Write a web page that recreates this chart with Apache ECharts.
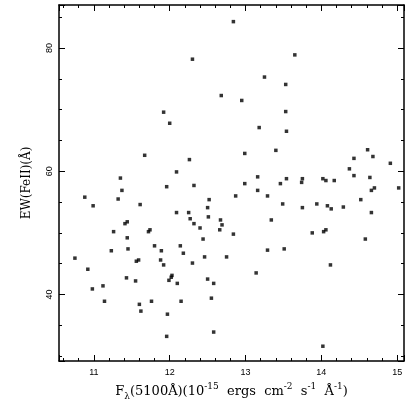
<!DOCTYPE html>
<html>
<head>
<meta charset="utf-8">
<script src="https://cdn.jsdelivr.net/npm/echarts@6/dist/echarts.min.js"></script>
<style>
  html, body { margin: 0; padding: 0; background: #fff; }
  #chart { width: 406px; height: 409px; }
</style>
</head>
<body>
<div id="chart"></div>
<script>
// flux F_lambda(5100A) in 1e-15 ergs cm^-2 s^-1 A^-1
const fluxValues = [
  12.84, 12.30, 13.65, 13.25, 13.53, 12.68, 12.95, 13.53, 11.92, 12.00,
  13.18, 13.54, 11.67, 12.26, 13.40, 12.99, 14.61, 14.68, 14.43, 14.91,
  12.09, 11.35, 14.37, 14.43, 14.64, 13.75, 13.74, 14.02, 14.06, 14.17,
  14.70, 14.66, 15.02, 14.52, 13.94, 13.75, 14.08, 14.13, 14.29, 14.66,
  13.88, 14.03, 14.06, 14.58, 14.12, 14.02, 13.16, 13.54, 12.99, 13.46,
  12.32, 13.16, 12.87, 13.29, 12.52, 13.49, 12.50, 12.51, 12.67, 12.32,
  12.69, 13.34, 12.40, 12.66, 12.84, 12.44, 13.29, 13.51, 12.46, 12.75,
  12.30, 13.14, 12.50, 12.58, 12.55, 12.58, 11.37, 11.96, 10.88, 11.32,
  10.99, 11.61, 12.09, 12.25, 12.27, 11.44, 11.41, 11.26, 11.74, 11.72,
  11.44, 11.45, 11.80, 12.14, 10.75, 11.23, 11.89, 12.18, 11.56, 11.59,
  11.88, 11.92, 10.92, 11.43, 11.55, 12.03, 12.02, 11.99, 12.10, 11.12,
  10.98, 11.14, 11.60, 11.62, 11.76, 12.15, 11.97, 11.96
];
// EW(FeII) in A
const ewValues = [
  84.3, 78.2, 78.9, 75.3, 74.1, 72.3, 71.5, 69.7, 69.6, 67.8,
  67.1, 66.5, 62.6, 61.9, 63.4, 62.9, 63.5, 62.4, 62.1, 61.3,
  59.9, 58.9, 60.4, 59.3, 59.0, 58.8, 58.2, 58.8, 58.5, 58.5,
  57.3, 56.9, 57.3, 55.4, 54.7, 54.1, 54.4, 53.9, 54.2, 53.3,
  50.0, 50.2, 50.5, 49.0, 44.8, 31.6, 59.1, 58.8, 58.0, 58.0,
  57.7, 56.9, 56.0, 56.0, 55.4, 54.7, 54.1, 52.6, 52.1, 51.5,
  51.3, 52.1, 50.8, 50.5, 49.8, 49.0, 47.2, 47.4, 46.1, 46.1,
  45.1, 43.5, 42.5, 41.8, 39.4, 33.9, 56.9, 57.5, 55.8, 55.5,
  54.4, 54.6, 53.3, 53.3, 52.3, 51.8, 51.5, 50.2, 50.5, 50.2,
  49.2, 47.4, 47.9, 47.9, 45.9, 47.1, 47.1, 46.7, 45.4, 45.6,
  45.6, 44.8, 44.1, 42.7, 42.2, 43.1, 42.8, 42.3, 41.8, 41.4,
  40.9, 38.9, 38.4, 37.3, 38.9, 38.9, 36.8, 33.2
];

const xRange = [10.54, 15.09];
const yRange = [29.2, 87.0];

const points = fluxValues.map((x, i) => [x, ewValues[i]]);

const chart = echarts.init(document.getElementById('chart'));

const lineStyle = { color: '#000', width: 1.5 };
const tickFont = { color: '#000', fontSize: 9, fontFamily: 'Liberation Sans' };
const serif = 'DejaVu Serif';

const frameX = (pos, showLabel) => ({
  type: 'value',
  position: pos,
  min: xRange[0],
  max: xRange[1],
  splitNumber: 5,
  axisLine: { show: true, onZero: false, lineStyle },
  axisTick: { show: true, inside: true, length: 6, lineStyle: { color: '#000', width: 1 } },
  minorTick: { show: true, splitNumber: 5, length: 3, lineStyle: { color: '#000', width: 1 } },
  splitLine: { show: false },
  axisLabel: {
    show: showLabel, margin: 7, showMinLabel: false, showMaxLabel: false, ...tickFont
  }
});

const frameY = (pos, showLabel) => ({
  type: 'value',
  position: pos,
  min: yRange[0],
  max: yRange[1],
  splitNumber: 3,
  axisLine: { show: true, onZero: false, lineStyle },
  axisTick: { show: true, inside: true, length: 6, lineStyle: { color: '#000', width: 1 } },
  minorTick: { show: true, splitNumber: 4, length: 3, lineStyle: { color: '#000', width: 1 } },
  splitLine: { show: false },
  axisLabel: {
    show: showLabel, rotate: 90, margin: 5, showMinLabel: false, showMaxLabel: false, ...tickFont
  }
});

const xMain = frameX('bottom', true);
xMain.name = 'F{sub|λ}(5100Å)(10{sup|-15}  ergs  cm{sup|-2}  s{sup|-1}  Å{sup|-1})';
xMain.nameLocation = 'middle';
xMain.nameGap = 20;
xMain.nameTextStyle = {
  color: '#000', fontSize: 13, fontFamily: serif, lineHeight: 19,
  rich: {
    sub: { fontSize: 9, fontFamily: serif, verticalAlign: 'bottom', lineHeight: 19 },
    sup: { fontSize: 9, fontFamily: serif, verticalAlign: 'top', lineHeight: 19 }
  }
};

const yMain = frameY('left', true);
yMain.name = 'EW(FeII)(Å)';
yMain.nameLocation = 'middle';
yMain.nameGap = 26;
yMain.nameTextStyle = { color: '#000', fontSize: 12, fontFamily: serif };

chart.setOption({
  animation: false,
  backgroundColor: '#fff',
  grid: { left: 59, right: 2, top: 5, bottom: 48 },
  xAxis: [xMain, frameX('top', false)],
  yAxis: [yMain, frameY('right', false)],
  series: [
    {
      type: 'scatter',
      xAxisIndex: 0,
      yAxisIndex: 0,
      symbol: 'rect',
      symbolSize: 3.5,
      itemStyle: { color: '#000' },
      data: points
    }
  ]
});
</script>
</body>
</html>
